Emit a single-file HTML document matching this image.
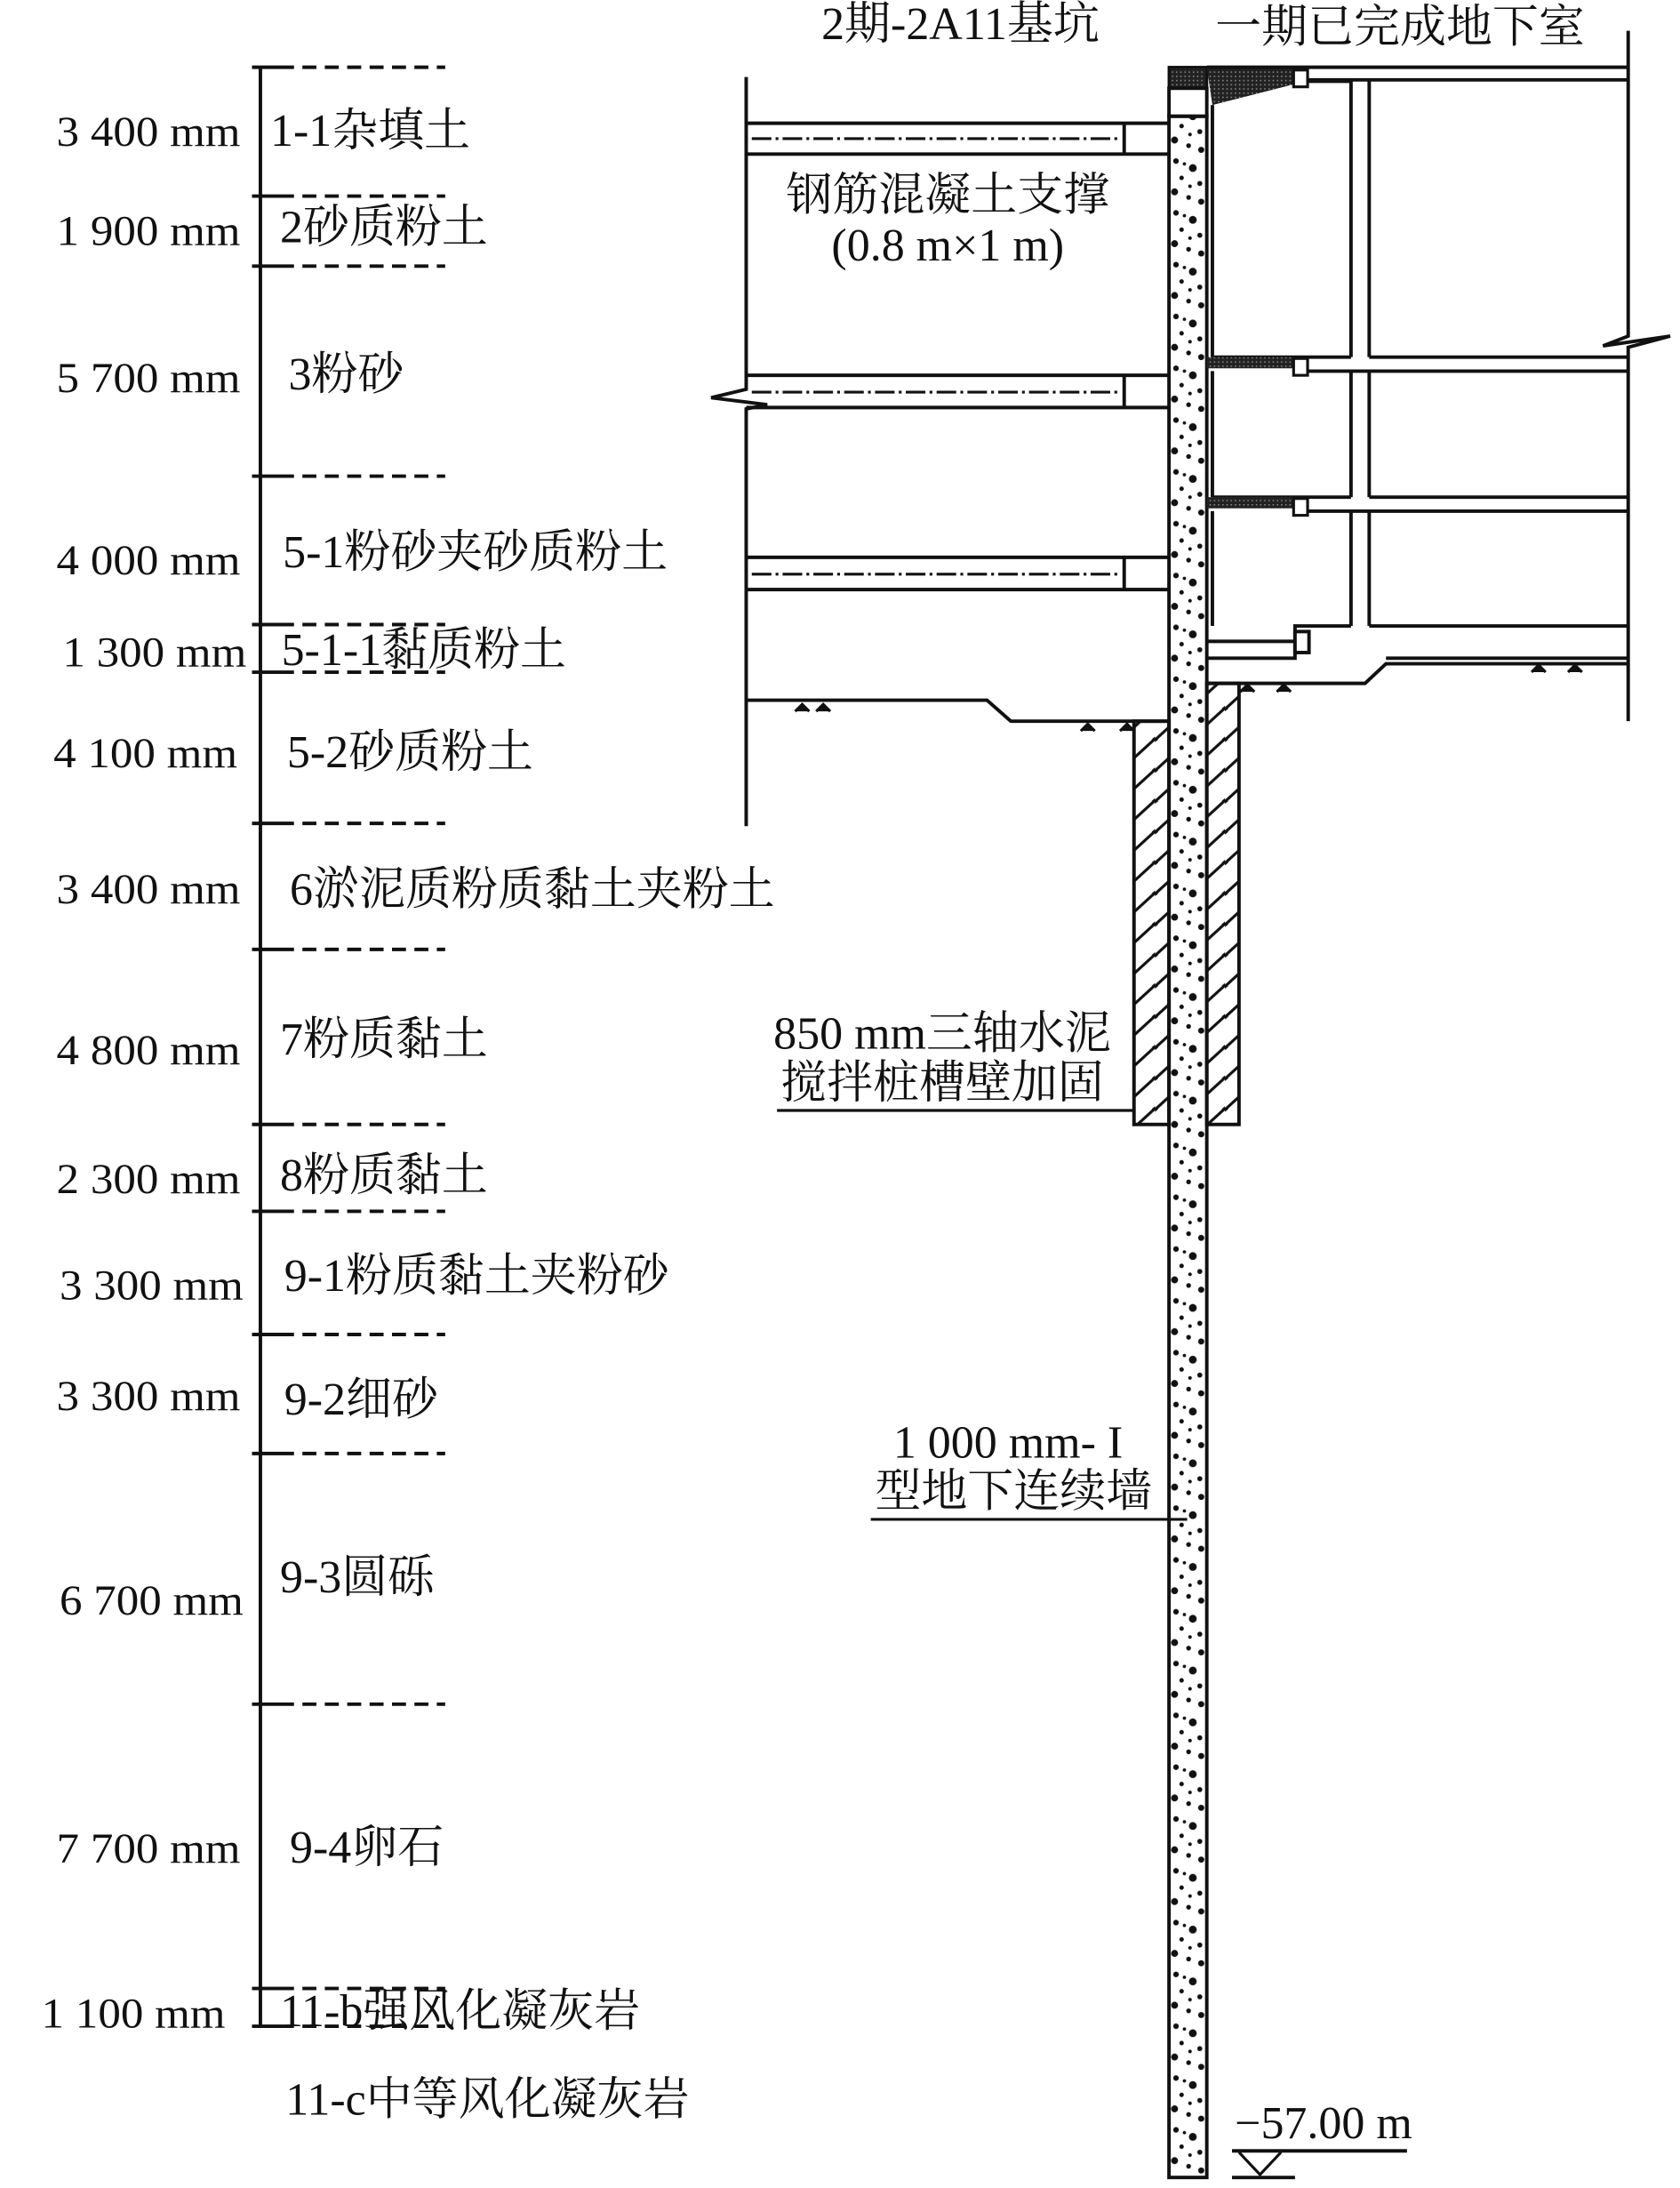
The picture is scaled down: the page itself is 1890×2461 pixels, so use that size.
<!DOCTYPE html>
<html><head><meta charset="utf-8"><style>
html,body{margin:0;padding:0;background:#fff;}
svg{display:block;}
text{font-family:"Liberation Serif","Noto Serif CJK SC","Noto Sans CJK SC",serif;fill:#111;}
</style></head><body>
<svg width="1890" height="2461" viewBox="0 0 1200 1562.5" xmlns="http://www.w3.org/2000/svg">
<defs>
<pattern id="dots" width="27" height="37" patternUnits="userSpaceOnUse" x="835" y="0">
<circle cx="5" cy="4" r="2" fill="#111"/><circle cx="17" cy="9" r="2.8" fill="#111"/>
<circle cx="9" cy="16" r="1.6" fill="#111"/><circle cx="22" cy="20" r="1.8" fill="#111"/>
<circle cx="4" cy="26" r="2.5" fill="#111"/><circle cx="14" cy="30" r="1.7" fill="#111"/>
<circle cx="23" cy="33" r="2.2" fill="#111"/><circle cx="11" cy="6" r="1.2" fill="#111"/>
<circle cx="15" cy="22" r="1.3" fill="#111"/>
</pattern>
<pattern id="hatch" width="25" height="22" patternUnits="userSpaceOnUse">
<path d="M-5,27 L30,-5" stroke="#111" stroke-width="2"/>
<path d="M-5,5 L8,-6" stroke="#111" stroke-width="2"/>
<path d="M17,28 L30,17" stroke="#111" stroke-width="2"/>
</pattern>
<pattern id="dark" width="3" height="3" patternUnits="userSpaceOnUse">
<rect width="3" height="3" fill="#222"/><rect width="1" height="1" fill="#888"/>
</pattern>
</defs>
<g stroke="#111" fill="none">
<line x1="186" y1="48" x2="186" y2="1447" stroke-width="2.5"/>
<g stroke-width="2.5">
<line x1="180" y1="48" x2="200" y2="48"/><line x1="180" y1="140" x2="200" y2="140"/>
<line x1="180" y1="190" x2="200" y2="190"/><line x1="180" y1="340" x2="200" y2="340"/>
<line x1="180" y1="446" x2="200" y2="446"/><line x1="180" y1="480" x2="200" y2="480"/>
<line x1="180" y1="588" x2="200" y2="588"/><line x1="180" y1="678" x2="200" y2="678"/>
<line x1="180" y1="803" x2="200" y2="803"/><line x1="180" y1="865" x2="200" y2="865"/>
<line x1="180" y1="953" x2="200" y2="953"/><line x1="180" y1="1038" x2="200" y2="1038"/>
<line x1="180" y1="1217" x2="200" y2="1217"/><line x1="180" y1="1420" x2="200" y2="1420"/>
<line x1="180" y1="1447" x2="200" y2="1447"/>
</g>
<g stroke-width="2.5" stroke-dasharray="10,6">
<line x1="200" y1="48" x2="318" y2="48"/><line x1="200" y1="140" x2="318" y2="140"/>
<line x1="200" y1="190" x2="318" y2="190"/><line x1="200" y1="340" x2="318" y2="340"/>
<line x1="200" y1="446" x2="318" y2="446"/><line x1="200" y1="480" x2="318" y2="480"/>
<line x1="200" y1="588" x2="318" y2="588"/><line x1="200" y1="678" x2="318" y2="678"/>
<line x1="200" y1="803" x2="318" y2="803"/><line x1="200" y1="865" x2="318" y2="865"/>
<line x1="200" y1="953" x2="318" y2="953"/><line x1="200" y1="1038" x2="318" y2="1038"/>
<line x1="200" y1="1217" x2="318" y2="1217"/><line x1="200" y1="1420" x2="318" y2="1420"/>
<line x1="200" y1="1447" x2="318" y2="1447"/>
</g>

<polyline points="533,55 533,278 508,284 548,289 533,292 533,590" stroke-width="2.5"/>
<g stroke-width="2.5">
<line x1="533" y1="88" x2="835" y2="88"/><line x1="533" y1="110" x2="835" y2="110"/><line x1="803" y1="88" x2="803" y2="110"/>
<line x1="533" y1="268" x2="835" y2="268"/><line x1="533" y1="291" x2="835" y2="291"/><line x1="803" y1="268" x2="803" y2="291"/>
<line x1="533" y1="398" x2="835" y2="398"/><line x1="533" y1="421" x2="835" y2="421"/><line x1="803" y1="398" x2="803" y2="421"/>
</g>
<g stroke-width="2" stroke-dasharray="14,3,2,3">
<line x1="537" y1="99" x2="800" y2="99"/><line x1="537" y1="280" x2="800" y2="280"/><line x1="537" y1="410" x2="800" y2="410"/>
</g>
<polyline points="533,500 705,500 722,515 835,515" stroke-width="2.5"/>

<rect x="810" y="515" width="25" height="288" fill="url(#hatch)" stroke-width="2.5"/>
<rect x="862" y="488" width="23" height="315" fill="url(#hatch)" stroke-width="2.5"/>

<rect x="835" y="48" width="27" height="15" fill="url(#dark)" stroke-width="2"/>
<rect x="835" y="63" width="27" height="20" fill="#fff" stroke-width="2.5"/>
<rect x="835" y="83" width="27" height="1472" fill="url(#dots)" stroke-width="2.5"/>

<polygon points="862,48 925,48 925,60 866,75" fill="url(#dark)" stroke="none"/>
<line x1="862" y1="48" x2="1163" y2="48" stroke-width="2.5"/>
<line x1="930" y1="57" x2="1163" y2="57" stroke-width="2.5"/>
<rect x="924" y="50" width="10" height="12" fill="#fff" stroke-width="2"/>
<polyline points="1163,22 1163,240 1145,247 1193,240 1163,248 1163,515" stroke-width="2.5"/>
<g stroke-width="2.5">
<polyline points="866,75 866,255"/>
<line x1="934" y1="58" x2="965" y2="58"/>
<line x1="965" y1="58" x2="965" y2="255"/><line x1="978" y1="58" x2="978" y2="255"/>
<line x1="866" y1="255" x2="965" y2="255"/><line x1="978" y1="255" x2="1163" y2="255"/>
<line x1="934" y1="265" x2="1163" y2="265"/>
<line x1="965" y1="265" x2="965" y2="355"/><line x1="978" y1="265" x2="978" y2="355"/>
<line x1="866" y1="355" x2="965" y2="355"/><line x1="978" y1="355" x2="1163" y2="355"/>
<line x1="934" y1="365" x2="1163" y2="365"/>
<line x1="866" y1="265" x2="866" y2="355"/><line x1="866" y1="365" x2="866" y2="447"/>
<line x1="965" y1="365" x2="965" y2="447"/><line x1="978" y1="365" x2="978" y2="447"/>
<line x1="978" y1="447" x2="1163" y2="447"/>
<polyline points="965,447 925,447 925,470 862,470"/>
<line x1="862" y1="458" x2="925" y2="458"/>
<rect x="925" y="451" width="10" height="15" fill="#fff"/>
<polyline points="862,488 975,488 990,474 1163,474"/>
<line x1="990" y1="470" x2="1163" y2="470"/>
</g>
<rect x="862" y="255" width="62" height="8" fill="url(#dark)" stroke="none"/>
<rect x="924" y="256" width="10" height="12" fill="#fff" stroke-width="2"/>
<rect x="862" y="355" width="62" height="8" fill="url(#dark)" stroke="none"/>
<rect x="924" y="356" width="10" height="12" fill="#fff" stroke-width="2"/>

<g fill="#111" stroke="#111" stroke-width="2">
<path d="M568,508 l5,-5 l5,5 M583,508 l5,-5 l5,5"/>
<path d="M772,522 l5,-5 l5,5 M800,522 l5,-5 l5,5"/>
<path d="M886,494 l5,-5 l5,5 M912,494 l5,-5 l5,5"/>
<path d="M1094,480 l5,-5 l5,5 M1120,480 l5,-5 l5,5"/>
</g>

<line x1="555" y1="793" x2="810" y2="793" stroke-width="2"/>
<line x1="622" y1="1085" x2="848" y2="1085" stroke-width="2"/>
<line x1="880" y1="1536" x2="1005" y2="1536" stroke-width="2.5"/>
<polyline points="885,1537 900,1553 915,1537" stroke-width="2"/>
<line x1="880" y1="1555" x2="925" y2="1555" stroke-width="2.5"/>
</g>

<g font-size="31">
<g text-anchor="end" font-size="30" transform="scale(1.08,1) translate(-13,0)">
<text x="172" y="104">3 400 mm</text>
<text x="172" y="175">1 900 mm</text>
<text x="172" y="280">5 700 mm</text>
<text x="172" y="410">4 000 mm</text>
<text x="176" y="476">1 300 mm</text>
<text x="170" y="548">4 100 mm</text>
<text x="172" y="645">3 400 mm</text>
<text x="172" y="760">4 800 mm</text>
<text x="172" y="852">2 300 mm</text>
<text x="174" y="928">3 300 mm</text>
<text x="172" y="1007">3 300 mm</text>
<text x="174" y="1153">6 700 mm</text>
<text x="172" y="1330">7 700 mm</text>
<text x="162" y="1448">1 100 mm</text>
</g>
<g font-size="33">
<text x="193" y="104">1-1杂填土</text>
<text x="200" y="173">2砂质粉土</text>
<text x="206" y="278">3粉砂</text>
<text x="202" y="405">5-1粉砂夹砂质粉土</text>
<text x="201" y="475">5-1-1黏质粉土</text>
<text x="205" y="548">5-2砂质粉土</text>
<text x="207" y="646">6淤泥质粉质黏土夹粉土</text>
<text x="200" y="753">7粉质黏土</text>
<text x="200" y="850">8粉质黏土</text>
<text x="203" y="922">9-1粉质黏土夹粉砂</text>
<text x="203" y="1010">9-2细砂</text>
<text x="200" y="1137">9-3圆砾</text>
<text x="207" y="1330">9-4卵石</text>
<text x="200" y="1447">11-b强风化凝灰岩</text>
<text x="204" y="1510">11-c中等风化凝灰岩</text>
<text x="686" y="28" text-anchor="middle">2期-2A11基坑</text>
<text x="1000" y="30" text-anchor="middle">一期已完成地下室</text>
<text x="677" y="150" text-anchor="middle">钢筋混凝土支撑</text>
<text x="677" y="186" text-anchor="middle">(0.8 m×1 m)</text>
<text x="673" y="749" text-anchor="middle">850 mm三轴水泥</text>
<text x="673" y="784" text-anchor="middle">搅拌桩槽壁加固</text>
<text x="720" y="1041" text-anchor="middle">1 000 mm- I</text>
<text x="724" y="1076" text-anchor="middle">型地下连续墙</text>
<text x="882" y="1527">−57.00 m</text>
</g>
</g>
</svg>
</body></html>
